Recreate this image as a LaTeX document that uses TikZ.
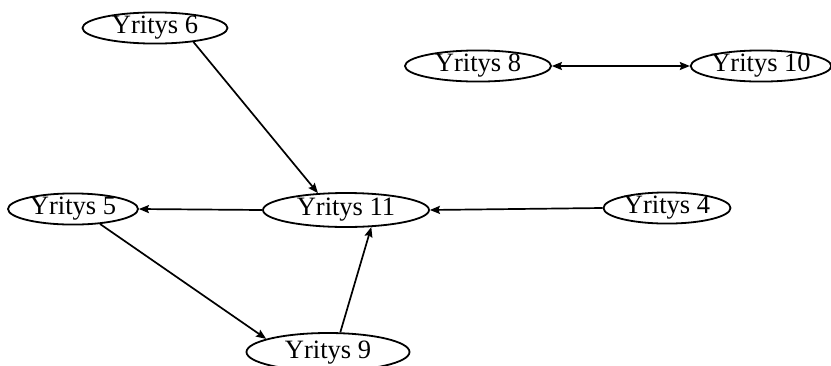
\documentclass[tikz,border=0pt]{standalone}
\usepackage{fontspec}
\setmainfont{Liberation Serif}
\usetikzlibrary{shapes.geometric,arrows.meta}
\begin{document}
\begin{tikzpicture}[x=1pt,y=-1pt,
  yr/.style={ellipse, draw, line width=1.8pt, inner sep=0pt, text height=16pt, text depth=6pt, font=\fontsize{26.5}{26}\selectfont},
  ar/.style={-{Stealth[length=10pt,width=8pt,inset=1.5pt]}, line width=1.7pt},
  dar/.style={{Stealth[length=10pt,width=8pt,inset=1.5pt]}-{Stealth[length=10pt,width=8pt,inset=1.5pt]}, line width=1.7pt}]
\useasboundingbox (0,0) rectangle (831,365);
\node[yr, minimum width=145pt, minimum height=27pt] (n6) at (155,28) {Yritys 6};
\node[yr, minimum width=146pt, minimum height=31pt] (n8) at (478,66) {Yritys 8};
\node[yr, minimum width=137pt, minimum height=31pt] (n10) at (761,66) {Yritys 10};
\node[yr, minimum width=130pt, minimum height=29pt] (n5) at (73,209) {Yritys 5};
\node[yr, minimum width=166pt, minimum height=34pt] (n11) at (346,210) {Yritys 11};
\node[yr, minimum width=127pt, minimum height=30pt] (n4) at (667,208) {Yritys 4};
\node[yr, minimum width=163pt, minimum height=38pt, text height=17pt, text depth=5pt] (n9) at (328,352) {Yritys 9};
\draw[ar] (n6.-20) -- (n11.149);
\draw[ar] (n11.west) -- (n5.east);
\draw[ar] (n4.west) -- (n11.east);
\draw[ar] (n5.-29) -- (n9.168);
\draw[ar] (n9.58) -- (n11.-34);
\draw[dar] (n8.east) -- (n10.west);
\end{tikzpicture}
\end{document}
